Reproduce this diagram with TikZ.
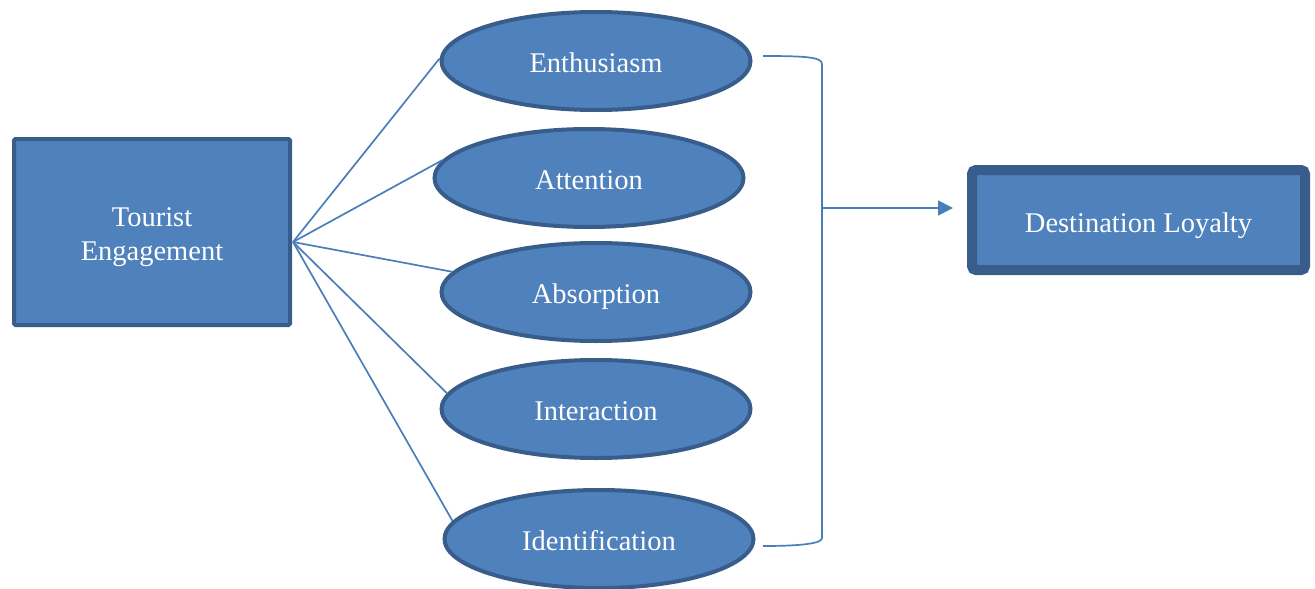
\documentclass[tikz,border=0pt]{standalone}
\usepackage{fontspec}
\setmainfont{Liberation Serif}
\usetikzlibrary{shapes.geometric, arrows.meta}

\definecolor{boxfill}{HTML}{4F81BD}
\definecolor{boxline}{HTML}{385D8A}
\definecolor{linkline}{HTML}{4A7EBB}

\begin{document}
\begin{tikzpicture}[
    x=1pt, y=-1pt,
    % Style for the rectangular constructs
    construct/.style={rectangle, draw=boxline, fill=boxfill, line width=4pt,
        rounded corners=1.5pt, text=white, align=center,
        font=\fontsize{28.5}{34}\selectfont},
    % Style for the dimension ellipses
    dimension/.style={ellipse, draw=boxline, fill=boxfill, line width=4pt,
        minimum width=309pt, minimum height=98pt, inner sep=0pt, text=white,
        text height=26pt, text depth=4pt,
        font=\fontsize{28.5}{34}\selectfont},
    % Style for the thin blue connectors
    link/.style={draw=linkline, line width=1.7pt}
]

    \useasboundingbox (0,0) rectangle (1315,589);

    % --- 1. Define Coordinates ---
    \coordinate (hub) at (293,242);
    \coordinate (brTop) at (763,56);
    \coordinate (brBot) at (763,546);
    \coordinate (brMid) at (822,208);

    % --- 2. Draw Nodes ---
    \node[construct, minimum width=276pt, minimum height=186pt,
        text height=62pt, text depth=6pt] (TE) at (152,232)
        {Tourist\\Engagement};

    \node[dimension] (enth) at (596,61) {Enthusiasm};
    \node[dimension] (att) at (589,178) {Attention};
    \node[dimension] (abs) at (596,292) {Absorption};
    \node[dimension] (int) at (596,409) {Interaction};
    \node[dimension] (ident) at (599,539) {Identification};

    \node[construct, line width=10pt, rounded corners=4pt,
        minimum width=333pt, minimum height=100pt,
        text height=28pt, text depth=4pt] (DL) at (1138.5,220)
        {Destination Loyalty};

    % --- 3. Draw Fan Connectors ---
    \draw[link] (hub) -- (enth.179);
    \draw[link] (hub) -- (att.173.5);
    \draw[link] (hub) -- (abs.172);
    \draw[link] (hub) -- (int.174);
    \draw[link] (hub) -- (ident.173.5);

    % --- 4. Draw Bracket and Arrow ---
    \draw[link] (brTop) .. controls (805,56) and (822,57) .. (822,64)
        -- (822,538) .. controls (822,543) and (805,546) .. (brBot);
    \draw[link, -{Triangle[length=15pt, width=15pt]}, shorten >=14pt]
        (brMid) -- (DL.west |- brMid);

\end{tikzpicture}
\end{document}
